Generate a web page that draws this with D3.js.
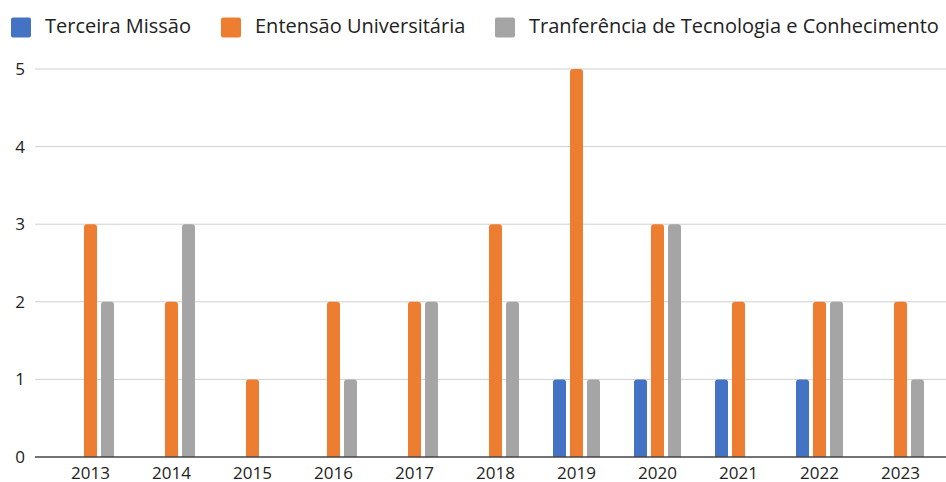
<!DOCTYPE html>
<html>
<head>
<meta charset="utf-8">
<script src="https://cdn.jsdelivr.net/npm/d3@7"></script>
<style>
  body { margin: 0; background: #fff; }
  text { font-family: "Open Sans", sans-serif; fill: #222; }
</style>
</head>
<body>
<div class="viz"></div>
<script>
const w = 946;
const h = 482;

const years = ["2013", "2014", "2015", "2016", "2017", "2018", "2019", "2020", "2021", "2022", "2023"];
const seriesNames = ["Terceira Missão", "Entensão Universitária", "Tranferência de Tecnologia e Conhecimento"];
const terceira = [0, 0, 0, 0, 0, 0, 1, 1, 1, 1, 0];
const extensao = [3, 2, 1, 2, 2, 3, 5, 3, 2, 2, 2];
const transferencia = [2, 3, 0, 1, 2, 2, 1, 3, 0, 2, 1];
const yTicks = [0, 1, 2, 3, 4, 5];
const colors = ["#4472c4", "#ed7d31", "#a5a5a5"];

const values = [terceira, extensao, transferencia];
const rows = years.map((yr, i) => ({ year: yr, vals: values.map(s => s[i]) }));

const svg = d3.select(".viz")
    .append("svg")
    .attr("width", w)
    .attr("height", h);

const x0 = d3.scaleBand()
    .domain(years)
    .range([50, 941]);

const x1 = d3.scaleBand()
    .domain([0, 1, 2])
    .range([17, 64])
    .paddingInner(0.235);

const y = d3.scaleLinear()
    .domain([0, 5])
    .range([457, 69]);

// gridlines
svg.selectAll("line.grid")
    .data(yTicks.filter(t => t > 0))
    .enter()
    .append("line")
    .attr("class", "grid")
    .attr("x1", 35)
    .attr("x2", 946)
    .attr("y1", d => y(d))
    .attr("y2", d => y(d))
    .style("stroke", "#d0d0d0")
    .style("stroke-width", 1);

// y labels
svg.selectAll("text.ylab")
    .data(yTicks)
    .enter()
    .append("text")
    .attr("class", "ylab")
    .attr("x", 25)
    .attr("y", d => y(d) + 6)
    .attr("text-anchor", "end")
    .style("font-size", "17px")
    .text(d => d);

// bars (rounded top)
function barPath(x, top, bw, bottom) {
    const r = Math.min(3, (bottom - top) / 2);
    return `M${x},${bottom}V${top + r}Q${x},${top} ${x + r},${top}H${x + bw - r}Q${x + bw},${top} ${x + bw},${top + r}V${bottom}Z`;
}

const groups = svg.selectAll("g.year")
    .data(rows)
    .enter()
    .append("g")
    .attr("class", "year")
    .attr("transform", d => `translate(${x0(d.year)},0)`);

groups.selectAll("path")
    .data(d => d.vals.map((v, k) => ({ v: v, k: k })).filter(e => e.v > 0))
    .enter()
    .append("path")
    .attr("d", e => barPath(x1(e.k), y(e.v), x1.bandwidth(), y(0)))
    .style("fill", e => colors[e.k]);

// baseline
svg.append("line")
    .attr("x1", 35)
    .attr("x2", 946)
    .attr("y1", y(0))
    .attr("y2", y(0))
    .style("stroke", "#444")
    .style("stroke-width", 1.5);

// x labels
svg.selectAll("text.xlab")
    .data(years)
    .enter()
    .append("text")
    .attr("class", "xlab")
    .attr("x", d => x0(d) + x0.bandwidth() / 2)
    .attr("y", 479)
    .attr("text-anchor", "middle")
    .style("font-size", "17px")
    .text(d => d);

// legend
const legX = [11, 221, 495];
const leg = svg.selectAll("g.leg")
    .data(seriesNames)
    .enter()
    .append("g")
    .attr("class", "leg")
    .attr("transform", (d, i) => `translate(${legX[i]},0)`);

leg.append("rect")
    .attr("x", 0)
    .attr("y", 17.5)
    .attr("width", 20)
    .attr("height", 20)
    .attr("rx", 2)
    .style("fill", (d, i) => colors[i]);

leg.append("text")
    .attr("x", 34)
    .attr("y", 33)
    .style("font-size", "20px")
    .text(d => d);
</script>
</body>
</html>
